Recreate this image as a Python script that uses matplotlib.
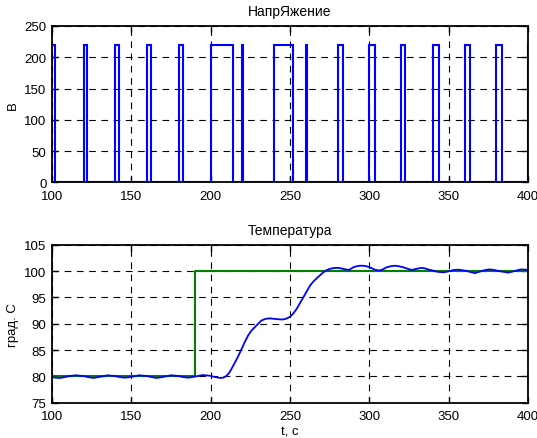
import matplotlib
matplotlib.use("Agg")
import matplotlib.pyplot as plt
import numpy as np

plt.rcParams['font.family'] = ['Liberation Sans', 'DejaVu Sans']

# Voltage pulses (on / off times, seconds) and level
pulse_on = [100, 120, 140, 160, 180, 200, 220, 240, 260, 280, 300, 320, 340, 360, 380, 400]
pulse_off = [101.8, 122.2, 142.4, 162.5, 182.4, 213.8, 220.5, 252.2, 260.8, 283.2, 303.5, 322.8, 344.0, 363.5, 383.7, 400.5]
pulse_level = 220

# Temperature response
temp_t = [100, 102, 105, 108, 110, 115, 120, 123, 126, 130, 135, 140, 143, 146, 150, 155, 160, 163,
          166, 170, 175, 180, 183, 186, 190, 195, 200, 203, 206, 208, 210, 212, 214, 217, 219.5,
          221.5, 223.5, 225.5, 227.7, 230, 232, 234, 236.2, 238, 240.4, 242.5, 244.6, 246.5, 248,
          250, 252, 254.2, 256.3, 258.4, 260.5, 262.6, 264.7, 266.8, 269, 271, 273, 275.1, 277.2,
          279.4, 281.5, 283.6, 285.2, 286.8, 288.3, 289.9, 292, 294.1, 296.2, 298.3, 301, 303.5,
          305, 306.7, 308.8, 310.9, 313.5, 316.1, 318.8, 321.4, 324, 326.6, 329.7, 332.9, 335,
          337.1, 339.7, 342.3, 344.5, 346.6, 348.7, 350.7, 353.4, 356, 358.7, 361.3, 364, 366.5,
          368.6, 370.8, 373.4, 376, 378.6, 381.3, 384.5, 387.6, 389.7, 391.8, 394, 396, 398.6, 400]
temp_v = [79.9, 79.75, 79.7, 79.85, 80.0, 80.2, 80.05, 79.85, 79.7, 79.9, 80.2, 80.05, 79.85, 79.75,
          79.9, 80.2, 80.05, 79.85, 79.7, 79.9, 80.2, 80.05, 79.85, 79.75, 79.95, 80.25, 80.1, 79.85,
          79.7, 79.75, 80.1, 80.8, 81.9, 83.6, 85.2, 86.5, 87.7, 88.6, 89.3, 90.0, 90.6, 90.85, 91.0,
          91.0, 90.9, 90.85, 90.8, 90.85, 91.0, 91.3, 91.9, 92.8, 93.9, 95.0, 96.1, 97.2, 98.0, 98.6,
          99.2, 99.75, 100.15, 100.4, 100.55, 100.6, 100.55, 100.4, 100.3, 100.2, 100.4, 100.7, 100.9,
          101.0, 101.0, 100.9, 100.6, 100.25, 100.15, 100.1, 100.35, 100.7, 100.9, 101.0, 100.9,
          100.7, 100.45, 100.2, 100.4, 100.6, 100.5, 100.3, 100.1, 99.9, 99.8, 99.75, 99.85, 100.0,
          100.2, 100.25, 100.15, 100.0, 99.8, 99.6, 99.8, 100.0, 100.2, 100.3, 100.2, 100.0, 99.85,
          99.7, 99.85, 100.0, 100.2, 100.3, 100.25, 100.2]

# Setpoint
set_t = [100, 190, 190, 400]
set_v = [80, 80, 100, 100]

x_ticks = [100, 150, 200, 250, 300, 350, 400]
top_yticks = [0, 50, 100, 150, 200, 250]
bot_yticks = [75, 80, 85, 90, 95, 100, 105]

# build step signal from pulse arrays
vt, vv = [], []
for on, off in zip(pulse_on, pulse_off):
    vt += [on, on, off, off]
    vv += [0, pulse_level, pulse_level, 0]
vt = vt[1:]
vv = vv[1:]

fig = plt.figure(figsize=(5.37, 4.39), dpi=100)
ax1 = fig.add_axes([0.0968, 0.5825, 0.8864, 0.356])
ax2 = fig.add_axes([0.0968, 0.0804, 0.8864, 0.36])

blue = (0, 0, 1)
green = (0, 0.5, 0)

ax1.plot(vt, vv, color=blue, lw=1.5, solid_joinstyle='miter')
ax1.set_xlim(100, 400)
ax1.set_ylim(0, 250)
ax1.set_yticks(top_yticks)
ax1.set_ylabel('В', fontsize=9.5, labelpad=4)
ax1.set_title('НапрЯжение', fontsize=10, pad=8)

ax2.plot(set_t, set_v, color=green, lw=1.5)
ax2.plot(temp_t, temp_v, color=blue, lw=1.3)
ax2.set_xlim(100, 400)
ax2.set_ylim(75, 105)
ax2.set_yticks(bot_yticks)
ax2.set_ylabel('град. С', fontsize=9.5, labelpad=4)
ax2.set_xlabel('t, c', fontsize=9.5, labelpad=2)
ax2.set_title('Температура', fontsize=10, pad=8)

for ax in (ax1, ax2):
    ax.set_xticks(x_ticks)
    ax.grid(True, color='black', linestyle=(0, (6, 5)), linewidth=0.8)
    ax.tick_params(direction='in', top=True, right=True, length=4, width=1,
                   labelsize=9.5, colors='black')
    ax.tick_params(axis='x', pad=5.5)
    ax.tick_params(axis='y', pad=4)
    for s in ax.spines.values():
        s.set_linewidth(1.3)
    ax.set_axisbelow(True)

fig.savefig('out.png', dpi=100)
